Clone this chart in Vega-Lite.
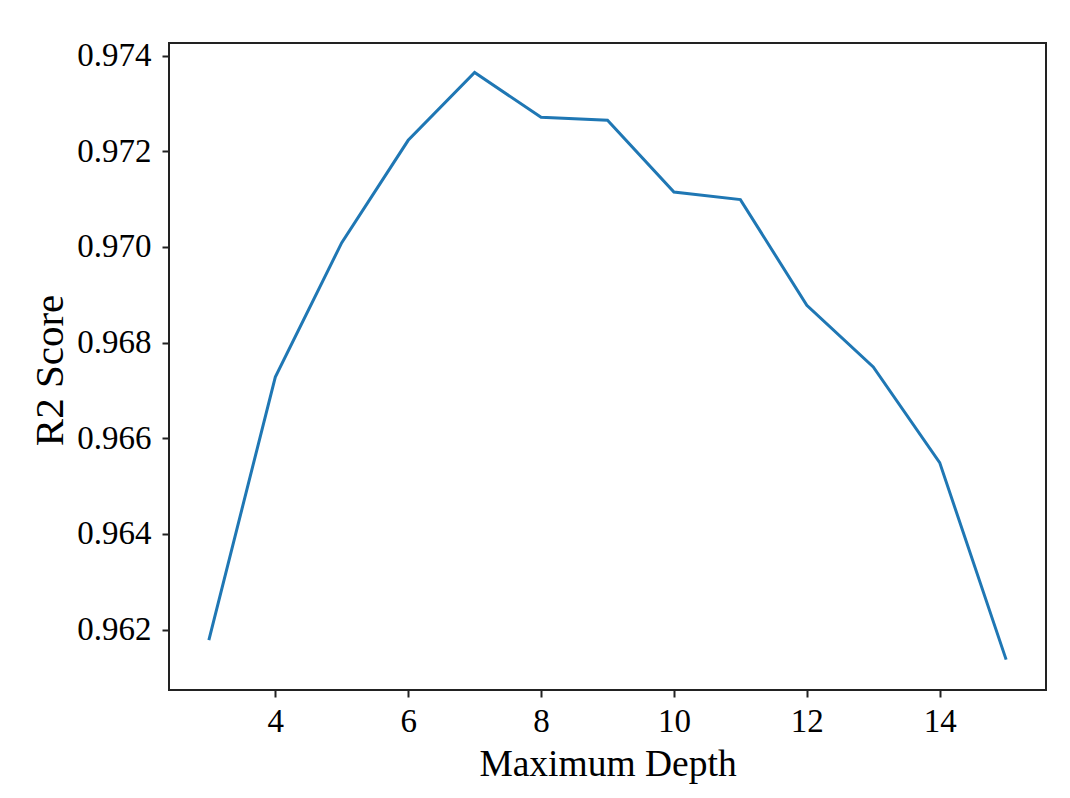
{
  "$schema": "https://vega.github.io/schema/vega-lite/v6.json",
  "width": 877,
  "height": 647,
  "autosize": {"type": "none"},
  "padding": {"left": 169, "top": 43, "right": 24, "bottom": 108},
  "background": "white",
  "data": {
    "values": [
      {"depth": 3, "r2": 0.96178},
      {"depth": 4, "r2": 0.96728},
      {"depth": 5, "r2": 0.97009},
      {"depth": 6, "r2": 0.97223},
      {"depth": 7, "r2": 0.97365},
      {"depth": 8, "r2": 0.97271},
      {"depth": 9, "r2": 0.97265},
      {"depth": 10, "r2": 0.97115},
      {"depth": 11, "r2": 0.97099},
      {"depth": 12, "r2": 0.96878},
      {"depth": 13, "r2": 0.96749},
      {"depth": 14, "r2": 0.96549},
      {"depth": 15, "r2": 0.96137}
    ]
  },
  "mark": {"type": "line", "color": "#1f77b4", "strokeWidth": 3},
  "encoding": {
    "x": {
      "field": "depth",
      "type": "quantitative",
      "scale": {"domain": [2.4, 15.6], "nice": false, "zero": false},
      "axis": {
        "title": "Maximum Depth",
        "values": [4, 6, 8, 10, 12, 14],
        "labelPadding": 8,
        "titleX": 438.5,
        "titleY": 85,
        "titleFontSize": 37.5,
        "titleBaseline": "alphabetic"
      }
    },
    "y": {
      "field": "r2",
      "type": "quantitative",
      "scale": {"domain": [0.960735, 0.974265], "nice": false, "zero": false},
      "axis": {
        "title": "R2 Score",
        "values": [0.962, 0.964, 0.966, 0.968, 0.97, 0.972, 0.974],
        "format": ".3f",
        "labelPadding": 11,
        "titleX": -107,
        "titleY": 327,
        "titleAngle": -90,
        "titleFontSize": 41,
        "titleBaseline": "alphabetic"
      }
    }
  },
  "config": {
    "font": "Liberation Serif",
    "view": {"stroke": "#222222", "strokeWidth": 2},
    "axis": {
      "domain": false,
      "grid": false,
      "ticks": true,
      "tickColor": "#222222",
      "tickWidth": 2,
      "tickSize": 7,
      "labelFont": "Liberation Serif",
      "labelFontSize": 33,
      "labelColor": "#000000",
      "titleFont": "Liberation Serif",
      "titleFontWeight": "normal",
      "titleColor": "#000000"
    }
  }
}
